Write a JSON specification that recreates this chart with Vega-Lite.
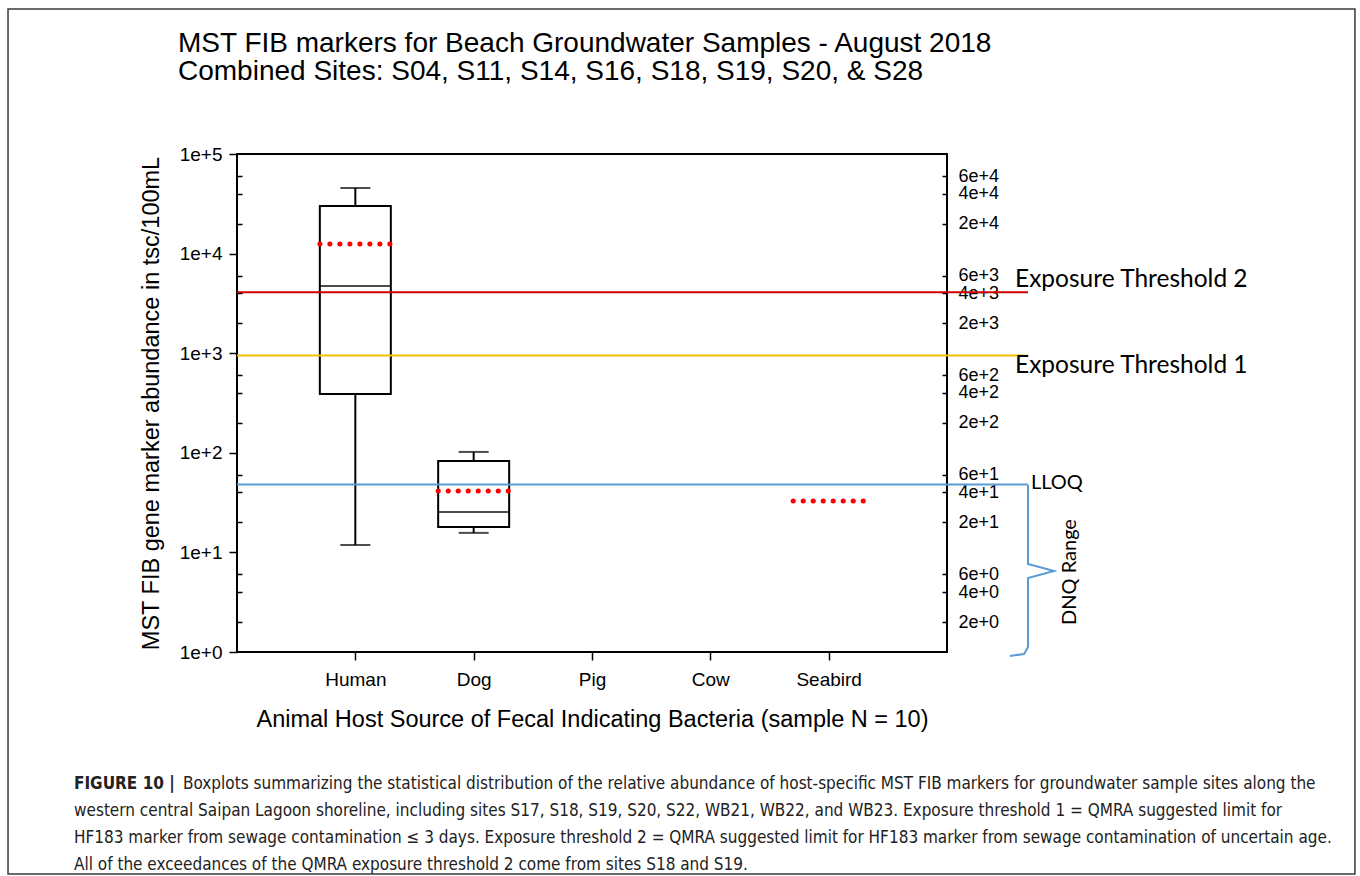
{
  "$schema": "https://vega.github.io/schema/vega-lite/v6.json",
  "width": 710,
  "height": 498,
  "autosize": "none",
  "padding": {"left": 237, "top": 154, "right": 413, "bottom": 224},
  "background": "white",
  "config": {
    "font": "Liberation Sans",
    "view": {"stroke": "black", "strokeWidth": 2},
    "axis": {"grid": false, "domain": false, "tickColor": "black", "tickWidth": 1.5, "labelColor": "black", "labelFontSize": 19, "titleColor": "black", "titleFontWeight": "normal", "titleFontSize": 23.5}
  },
  "resolve": {"scale": {"x": "independent", "y": "independent"}},
  "layer": [
    {
      "data": {"values": [
        {"host": "Human", "min": 11.9, "q1": 389, "median": 4730, "q3": 30100, "max": 45600, "mean": 12500},
        {"host": "Dog", "min": 15.7, "q1": 18.0, "median": 25.5, "q3": 82.7, "max": 102, "mean": 41.3},
        {"host": "Seabird", "mean": 32.8}
      ]},
      "encoding": {
        "x": {"field": "host", "type": "nominal", "scale": {"type": "point", "domain": ["Human", "Dog", "Pig", "Cow", "Seabird"], "padding": 1},
          "axis": {"title": "Animal Host Source of Fecal Indicating Bacteria (sample N = 10)", "labelAngle": 0, "tickSize": 8, "labelPadding": 10, "titlePadding": 18}}
      },
      "layer": [
        {"mark": {"type": "bar", "width": 71, "fill": "white", "stroke": "black", "strokeWidth": 2},
          "encoding": {
            "y": {"field": "q1", "type": "quantitative", "scale": {"type": "log", "domain": [1, 100000], "nice": false},
              "axis": {"orient": "left", "values": [1, 10, 100, 1000, 10000, 100000], "labelExpr": "'1e+' + round(log(datum.value)/LN10)", "labelOverlap": false, "tickSize": 8, "labelPadding": 7, "title": "MST FIB gene marker abundance in tsc/100mL", "titlePadding": 16}},
            "y2": {"field": "q3"}
          }},
        {"mark": {"type": "rule", "color": "black", "strokeWidth": 2},
          "encoding": {"y": {"field": "q3", "type": "quantitative"}, "y2": {"field": "max"}}},
        {"mark": {"type": "rule", "color": "black", "strokeWidth": 2},
          "encoding": {"y": {"field": "min", "type": "quantitative"}, "y2": {"field": "q1"}}},
        {"mark": {"type": "tick", "color": "black", "size": 30, "thickness": 2},
          "encoding": {"y": {"field": "max", "type": "quantitative"}}},
        {"mark": {"type": "tick", "color": "black", "size": 30, "thickness": 2},
          "encoding": {"y": {"field": "min", "type": "quantitative"}}},
        {"mark": {"type": "tick", "color": "black", "size": 71, "thickness": 2},
          "encoding": {"y": {"field": "median", "type": "quantitative"}}},
        {"mark": {"type": "rule", "color": "#ff0000", "strokeWidth": 5, "strokeCap": "round", "strokeDash": [0.1, 9.9], "xOffset": -35.5, "x2Offset": 35.5},
          "encoding": {"x2": {"field": "host"}, "y": {"field": "mean", "type": "quantitative"}}}
      ]
    },
    {
      "data": {"values": [
        {"threshold": "Exposure Threshold 2", "value": 4100},
        {"threshold": "Exposure Threshold 1", "value": 950},
        {"threshold": "LLOQ", "value": 48}
      ]},
      "mark": {"type": "rule", "strokeWidth": 2},
      "encoding": {
        "x": {"datum": 0, "type": "quantitative", "scale": {"domain": [0, 1], "nice": false, "zero": false}, "axis": null},
        "x2": {"datum": 1.114},
        "y": {"field": "value", "type": "quantitative", "scale": {"type": "log", "domain": [1, 100000], "nice": false},
          "axis": {"orient": "right", "values": [2, 4, 6, 20, 40, 60, 200, 400, 600, 2000, 4000, 6000, 20000, 40000, 60000], "labelExpr": "round(datum.value / pow(10, floor(log(datum.value)/LN10 + 0.000001))) + 'e+' + floor(log(datum.value)/LN10 + 0.000001)", "labelOverlap": false, "labelFontSize": 18, "tickSize": -5, "labelPadding": 16, "title": null}},
        "color": {"field": "threshold", "type": "nominal", "scale": {"domain": ["Exposure Threshold 2", "Exposure Threshold 1", "LLOQ"], "range": ["#d00000", "#f5c000", "#5b9bd5"]}, "legend": null}
      }
    },
    {
      "data": {"values": [{}]},
      "layer": [
        {"mark": {"type": "text", "text": "Exposure Threshold 2", "align": "left", "baseline": "middle", "font": "Lato", "fontSize": 24.5, "color": "black"},
          "encoding": {
            "x": {"datum": 1.0958, "type": "quantitative", "scale": {"domain": [0, 1], "nice": false, "zero": false}, "axis": null},
            "y": {"datum": 5433, "type": "quantitative", "scale": {"type": "log", "domain": [1, 100000], "nice": false},
              "axis": {"orient": "left", "values": [2, 4, 6, 20, 40, 60, 200, 400, 600, 2000, 4000, 6000, 20000, 40000, 60000], "labels": false, "tickSize": -5, "title": null}}
          }},
        {"mark": {"type": "text", "text": "Exposure Threshold 1", "align": "left", "baseline": "middle", "font": "Lato", "fontSize": 24.5, "color": "black"},
          "encoding": {
            "x": {"datum": 1.0958, "type": "quantitative", "axis": null},
            "y": {"datum": 743, "type": "quantitative"}
          }},
        {"mark": {"type": "text", "text": "LLOQ", "align": "left", "baseline": "middle", "font": "Lato", "fontSize": 20, "color": "black"},
          "encoding": {
            "x": {"datum": 1.1183, "type": "quantitative", "axis": null},
            "y": {"datum": 49.8, "type": "quantitative"}
          }}
      ]
    },
    {
      "layer": [
        {"data": {"values": [
            {"k": 1, "bx": 1.1141, "by": 0.3353},
            {"k": 2, "bx": 1.1141, "by": 0.3213},
            {"k": 3, "bx": 1.1141, "by": 0.1767},
            {"k": 4, "bx": 1.1507, "by": 0.1627},
            {"k": 5, "bx": 1.1141, "by": 0.1486},
            {"k": 6, "bx": 1.1141, "by": 0.0100},
            {"k": 7, "bx": 1.1085, "by": -0.0040},
            {"k": 8, "bx": 1.0887, "by": -0.0080}
          ]},
          "mark": {"type": "line", "color": "#5b9bd5", "strokeWidth": 2},
          "encoding": {
            "x": {"field": "bx", "type": "quantitative", "scale": {"domain": [0, 1], "nice": false, "zero": false}, "axis": null},
            "y": {"field": "by", "type": "quantitative", "scale": {"domain": [0, 1], "nice": false, "zero": false}, "axis": null},
            "order": {"field": "k"}
          }},
        {"data": {"values": [{}]},
          "mark": {"type": "text", "text": "DNQ Range", "angle": 270, "align": "center", "baseline": "middle", "font": "Lato", "fontSize": 20, "color": "black"},
          "encoding": {"x": {"datum": 1.1732, "type": "quantitative", "axis": null}, "y": {"datum": 0.1606, "type": "quantitative", "axis": null}}},
        {"data": {"values": [{}]},
          "mark": {"type": "text", "text": ["MST FIB markers for Beach Groundwater Samples - August 2018", "Combined Sites: S04, S11, S14, S16, S18, S19, S20, & S28"], "align": "left", "baseline": "alphabetic", "fontSize": 28, "lineHeight": 28, "color": "black"},
          "encoding": {"x": {"datum": -0.0831, "type": "quantitative", "axis": null}, "y": {"datum": 1.2048, "type": "quantitative", "axis": null}}},
        {"data": {"values": [{}]},
          "mark": {"type": "text", "text": "FIGURE 10 |", "align": "left", "baseline": "alphabetic", "font": "DejaVu Sans Condensed, Liberation Sans", "fontWeight": "bold", "fontSize": 17, "color": "#222222"},
          "encoding": {"x": {"datum": -0.2296, "type": "quantitative", "axis": null}, "y": {"datum": -0.2751, "type": "quantitative", "axis": null}}},
        {"data": {"values": [{}]},
          "mark": {"type": "text", "text": "Boxplots summarizing the statistical distribution of the relative abundance of host-specific MST FIB markers for groundwater sample sites along the", "align": "left", "baseline": "alphabetic", "font": "DejaVu Sans Condensed, Liberation Sans", "fontSize": 17, "color": "#222222"},
          "encoding": {"x": {"datum": -0.0761, "type": "quantitative", "axis": null}, "y": {"datum": -0.2751, "type": "quantitative", "axis": null}}},
        {"data": {"values": [{}]},
          "mark": {"type": "text", "text": ["western central Saipan Lagoon shoreline, including sites S17, S18, S19, S20, S22, WB21, WB22, and WB23. Exposure threshold 1 = QMRA suggested limit for", "HF183 marker from sewage contamination ≤ 3 days. Exposure threshold 2 = QMRA suggested limit for HF183 marker from sewage contamination of uncertain age.", "All of the exceedances of the QMRA exposure threshold 2 come from sites S18 and S19."], "align": "left", "baseline": "alphabetic", "font": "DejaVu Sans Condensed, Liberation Sans", "fontSize": 17, "lineHeight": 27, "color": "#222222"},
          "encoding": {"x": {"datum": -0.2296, "type": "quantitative", "axis": null}, "y": {"datum": -0.3293, "type": "quantitative", "axis": null}}},
        {"data": {"values": [{}]},
          "mark": {"type": "rect", "fillOpacity": 0, "stroke": "#3a3a3a", "strokeWidth": 1.5},
          "encoding": {
            "x": {"datum": -0.3225, "type": "quantitative", "axis": null}, "x2": {"datum": 1.5746},
            "y": {"datum": 1.2912, "type": "quantitative", "axis": null}, "y2": {"datum": -0.4458}
          }}
      ]
    }
  ]
}
